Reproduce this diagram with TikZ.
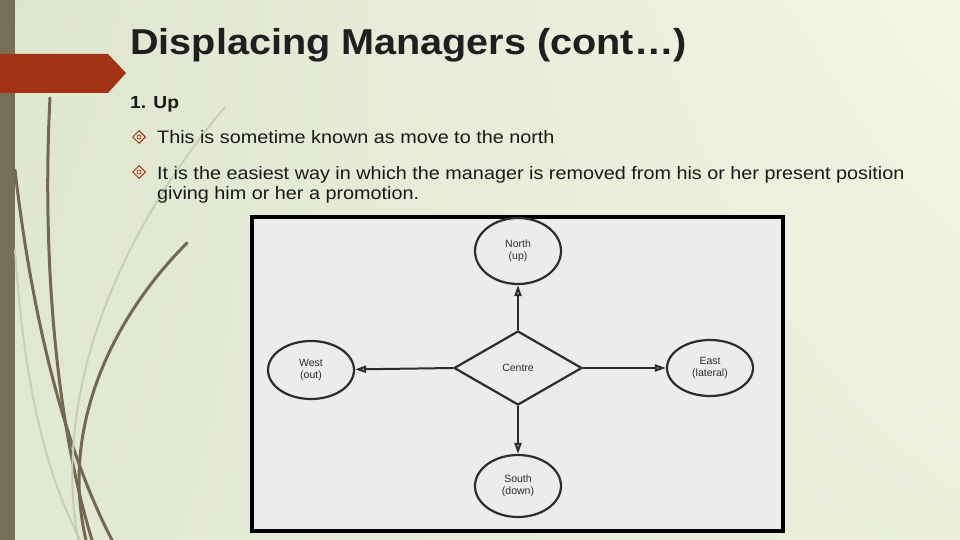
\documentclass[tikz,border=0pt]{standalone}
\usepackage{fontspec}
\setmainfont{Liberation Sans}
\newfontfamily\slidefont[FakeStretch=1.1]{Liberation Sans}
\usetikzlibrary{arrows.meta,positioning,shapes.geometric,shadings}
\definecolor{barbrown}{RGB}{119,110,88}
\definecolor{rust}{RGB}{163,50,20}
\definecolor{grass}{RGB}{115,105,80}
\definecolor{paleleaf}{RGB}{200,205,186}
\definecolor{ink}{RGB}{45,45,45}
\definecolor{paper}{RGB}{236,236,234}
\definecolor{bgA}{RGB}{222,229,205}
\definecolor{bgB}{RGB}{242,246,230}
\definecolor{bgC}{RGB}{234,240,218}
\definecolor{bgD}{RGB}{226,233,210}

\begin{document}
\begin{tikzpicture}[x=1pt, y=-1pt, >={Triangle[length=11pt,width=7pt,fill=gray!55]},
  place/.style={ellipse, draw=ink, line width=2.2pt, fill=paper, minimum width=86pt, inner sep=0pt, align=center, text=ink, font=\fontsize{10.5}{12}\selectfont},
  flow/.style={->, draw=ink, line width=2pt},
  leaf/.style={draw=grass, line width=3pt, line cap=round},
  paleleaf/.style={draw=paleleaf, line width=2pt, line cap=round},
  bulletmark/.style={diamond, draw=rust, line width=1pt, minimum size=13pt, inner sep=0pt},
  slidetext/.style={anchor=base west, inner sep=0pt, text=black!90, font=\slidefont\fontsize{18}{20}\selectfont}]
\useasboundingbox (0,0) rectangle (960,540);
\shade[upper left=bgA, upper right=bgB, lower right=bgC, lower left=bgD] (0,0) rectangle (960,540);
\fill[barbrown] (0,0) rectangle (15,540);
\draw[leaf] (50,98) .. controls (42,250) and (55,420) .. (92,540);
\draw[leaf] (15,170) .. controls (30,300) and (60,440) .. (112,540);
\draw[leaf] (187,243) .. controls (110,320) and (60,430) .. (86,540);
\draw[paleleaf] (225,107) .. controls (130,220) and (50,380) .. (78,540);
\draw[paleleaf] (15,250) .. controls (25,400) and (50,480) .. (80,540);
\fill[rust] (0,54) -- (108,54) -- (126,73) -- (108,93) -- (0,93) -- cycle;

\node[slidetext, text=black!88, font=\slidefont\bfseries\fontsize{36}{40}\selectfont] (title) at (130,55) {Displacing Managers (cont…)};
\node[slidetext, font=\slidefont\bfseries\fontsize{17.5}{20}\selectfont] (upnum) at (130,109) {1. Up};
\foreach \y/\n in {137/dot1, 172/dot2} { \node[bulletmark] (\n) at (139,\y) {}; \draw[rust, line width=.7pt] (\n) circle (2pt); }
\node[slidetext] (note1) at (157,144) {This is sometime known as move to the north};
\node[slidetext] (note2a) at (157,179) {It is the easiest way in which the manager is removed from his or her present position};
\node[slidetext] (note2b) at (157,199) {giving him or her a promotion.};

\draw[line width=4pt, fill=paper] (252,217) rectangle (783,531);
\node[diamond, draw=ink, line width=2.2pt, fill=paper, minimum width=128pt, minimum height=74pt, inner sep=0pt, text=ink, font=\fontsize{10.5}{12}\selectfont] (centre) at (518,368) {Centre};
\node[place, minimum height=66pt] (north) at (518,251) {North\\(up)};
\node[place, minimum height=58pt] (west) at (311,370) {West\\(out)};
\node[place, minimum height=56pt] (east) at (710,368) {East\\(lateral)};
\node[place, minimum height=62pt] (south) at (518,486) {South\\(down)};
\draw[flow] (centre.north) -- (north);
\draw[flow] (centre.west) -- (west);
\draw[flow] (centre.east) -- (east);
\draw[flow] (centre.south) -- (south);
\end{tikzpicture}
\end{document}
